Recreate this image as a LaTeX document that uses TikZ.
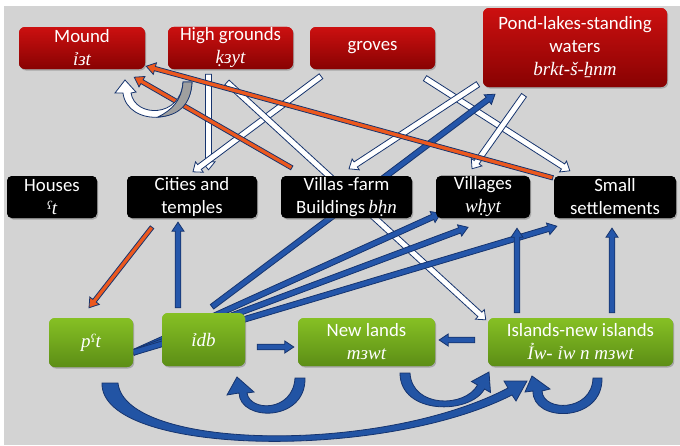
\documentclass[tikz,border=0pt]{standalone}
\usepackage{fontspec}
\setmainfont{Carlito}
\newfontfamily\trfont{Liberation Serif}
\usetikzlibrary{calc,shadows}
\definecolor{bg}{RGB}{211,211,211}
\definecolor{redT}{RGB}{204,16,16}
\definecolor{redB}{RGB}{136,2,2}
\definecolor{grnT}{RGB}{134,192,36}
\definecolor{grnB}{RGB}{92,142,22}
\definecolor{arrBlue}{RGB}{36,86,170}
\definecolor{arrDark}{RGB}{22,52,110}
\definecolor{arrOrange}{RGB}{236,88,30}
\definecolor{ribBlue}{RGB}{34,84,164}
\newcommand{\translit}[1]{{\trfont\itshape\fontsize{19}{23}\selectfont #1}}
\newcommand{\ayin}{\raisebox{0.55ex}{\scalebox{0.62}{ʕ}}}
\newcommand{\FatArr}[6]{%
  \coordinate (faH) at ($(#3)!#6!(#2)$);
  \path[#1] ($(#2)!#4!90:(#3)$) -- ($(faH)!#4!90:(#3)$) -- ($(faH)!#5!90:(#3)$) -- (#3)
    -- ($(faH)!#5!-90:(#3)$) -- ($(faH)!#4!-90:(#3)$) -- ($(#2)!#4!-90:(#3)$) -- cycle;
}
\begin{document}
\begin{tikzpicture}[x=1pt,y=-1pt,
  nbox/.style={rounded corners=6pt, text=white, align=center, inner sep=1pt,
    font=\fontsize{18.8}{23}\selectfont,
    drop shadow={opacity=0.3,shadow xshift=1.2pt,shadow yshift=-1.5pt}},
  redbox/.style={nbox, top color=redT, bottom color=redB},
  blackbox/.style={nbox, fill=black, rounded corners=5pt},
  greenbox/.style={nbox, top color=grnT, bottom color=grnB},
  solidarr/.style={fill=arrBlue, draw=arrDark, line width=0.8pt},
  hollowarr/.style={fill=white, draw=arrDark, line width=0.8pt},
  redarr/.style={fill=arrOrange, draw=arrDark, line width=0.8pt},
  ribbon/.style={fill=ribBlue, draw=arrDark, line width=0.8pt}]
\useasboundingbox (0,0) rectangle (680,445);
\fill[white] (0,0) rectangle (680,445);
\fill[bg] (4,6) rectangle (680,445);

% nodes (placed first so connectors can refer to them; redrawn on top at the end)
\path
  node[redbox, minimum width=126pt, minimum height=42pt] (mound) at (82,48) {Mound\\\translit{ỉзt}}
  node[redbox, minimum width=125pt, minimum height=42pt] (high) at (230.5,48) {High grounds\\\translit{ḳзyt}}
  node[redbox, minimum width=125pt, minimum height=42pt] (groves) at (372.5,48) {groves}
  node[redbox, minimum width=184pt, minimum height=79pt] (pond) at (575,47.5) {Pond-lakes-standing\\waters\\\translit{brkt-š-ẖnm}};

\path
  node[blackbox, minimum width=90pt, minimum height=42pt] (houses) at (52,197) {Houses\\\translit{\ayin t}}
  node[blackbox, minimum width=130pt, minimum height=42pt] (cities) at (192,197) {Cities and\\temples}
  node[blackbox, minimum width=131pt, minimum height=42pt] (villas) at (346.5,197) {Villas -farm\\Buildings\,\translit{bḥn}}
  node[blackbox, minimum width=94pt, minimum height=42pt] (villages) at (483,197) {Villages\\\translit{wḥyt}}
  node[blackbox, minimum width=122pt, minimum height=42pt] (small) at (615,197) {Small\\settlements};

\path
  node[greenbox, minimum width=84pt, minimum height=49pt] (pat) at (91,342.5) {\translit{p\ayin t}}
  node[greenbox, minimum width=83pt, minimum height=53pt] (idb) at (203.5,339.5) {\translit{ỉdb}}
  node[greenbox, minimum width=137pt, minimum height=48pt] (newl) at (366.5,342) {New lands\\\translit{mзwt}}
  node[greenbox, minimum width=185pt, minimum height=48pt] (isl) at (580.5,342) {Islands-new islands\\\translit{Ỉw- ỉw n mзwt}};

% connector end points
\coordinate (h1s) at ($(high.south)+(-22,5)$);
\coordinate (h1e) at ($(cities.north)+(16.5,-6)$);
\coordinate (h2s) at ($(groves.south)+(-51.5,7)$);
\coordinate (h2e) at ($(cities.north)+(1,-4)$);
\coordinate (h3s) at ($(high.south)+(-3.5,13)$);
\coordinate (h3e) at ($(isl.north west)+(-2,2)$);
\coordinate (h4s) at ($(groves.south)+(52.5,9)$);
\coordinate (h4e) at ($(small.north west)+(16,-5)$);
\coordinate (h5s) at ($(pond.south)+(-97,-3)$);
\coordinate (h5e) at ($(villas.north)+(2.5,-7)$);
\coordinate (h6s) at ($(pond.south)+(-51,8)$);
\coordinate (h6e) at ($(villages.north)+(-11,-7)$);
\coordinate (r1s) at ($(small.north west)+(-1,2)$);
\coordinate (r1e) at ($(mound.south east)+(1,-3)$);
\coordinate (r2s) at ($(villas.north west)+(11,-8)$);
\coordinate (r2e) at ($(mound.south east)+(-11,8)$);
\coordinate (r3s) at ($(cities.south)+(-40,9)$);
\coordinate (r3e) at ($(pat.north)+(-2,-10)$);
\coordinate (b1s) at ($(idb.north)+(-25.5,-5)$);
\coordinate (b1e) at ($(cities.south)+(-14,4)$);
\coordinate (b2s) at ($(idb.north)+(8.5,-6)$);
\coordinate (b2e) at ($(pond.south)+(-80,7)$);
\coordinate (b3s) at ($(pat.east)+(0,10)$);
\coordinate (b3e) at ($(villages.south west)+(5,-5)$);
\coordinate (b4e) at ($(villages.south)+(-15,9)$);
\coordinate (b5e) at ($(small.south west)+(3,8)$);
\coordinate (b6s) at ($(isl.north)+(-63.5,-5)$);
\coordinate (b6e) at ($(villages.south)+(34,10)$);
\coordinate (b7s) at ($(isl.north)+(31.5,-5)$);
\coordinate (b7e) at ($(small.south)+(-3,10)$);
\coordinate (b8s) at ($(idb.east)+(12,7.5)$);
\coordinate (b8e) at ($(newl.west)+(-4,5)$);
\coordinate (b9s) at ($(isl.west)+(-13,-2)$);
\coordinate (b9e) at ($(newl.east)+(4,-2)$);

% hollow arrows
\FatArr{hollowarr}{h1s}{h1e}{3pt}{6.5pt}{8pt}
\FatArr{hollowarr}{h2s}{h2e}{3pt}{6.5pt}{8pt}
\FatArr{hollowarr}{h3s}{h3e}{3pt}{6.5pt}{8pt}
\FatArr{hollowarr}{h4s}{h4e}{3pt}{6.5pt}{8pt}
\FatArr{hollowarr}{h5s}{h5e}{3pt}{6.5pt}{8pt}
\FatArr{hollowarr}{h6s}{h6e}{3pt}{6.5pt}{8pt}
% solid blue arrows
\FatArr{solidarr}{b1s}{b1e}{2.8pt}{6pt}{9pt}
\FatArr{solidarr}{b2s}{b2e}{2.8pt}{6pt}{9pt}
\FatArr{solidarr}{b3s}{b3e}{2.8pt}{6pt}{9pt}
\FatArr{solidarr}{b3s}{b4e}{2.8pt}{6pt}{9pt}
\FatArr{solidarr}{b3s}{b5e}{2.8pt}{6pt}{9pt}
\FatArr{solidarr}{b6s}{b6e}{2.8pt}{6pt}{9pt}
\FatArr{solidarr}{b7s}{b7e}{2.8pt}{6pt}{9pt}
\FatArr{solidarr}{b8s}{b8e}{2.8pt}{6pt}{9pt}
\FatArr{solidarr}{b9s}{b9e}{2.8pt}{6pt}{9pt}
% orange arrows
\FatArr{redarr}{r1s}{r1e}{2.2pt}{6pt}{9pt}
\FatArr{redarr}{r2s}{r2e}{2.2pt}{6pt}{9pt}
\FatArr{redarr}{r3s}{r3e}{2.2pt}{6pt}{9pt}

% curved arrow under Mound
\path[hollowarr] (192,82) .. controls (191,127) and (127,127) .. (123,93) -- (115,93) -- (125,80) -- (136,92) -- (131,93)
  .. controls (135,118) and (181,118) .. (183,82) -- cycle;
\path[fill=gray!75!white, draw=arrDark, line width=0.8pt] (183,82) -- (192,82) .. controls (191,105) and (178,116) .. (158,117)
  .. controls (172,110) and (182,100) .. (183,82) -- cycle;

% ribbons at bottom
\path[ribbon] (102,383) .. controls (100,455) and (380,462) .. (512,395) -- (516,401) -- (527,381) -- (504,381) -- (508,388)
  .. controls (380,455) and (125,450) .. (118,383) -- cycle;
\path[ribbon] (305,378) .. controls (306,422) and (240,422) .. (239,393) -- (227,395) -- (237,377) -- (254,392) -- (247,393)
  .. controls (250,412) and (293,412) .. (295,378) -- cycle;
\path[ribbon] (400,373) .. controls (400,415) and (470,415) .. (484.5,389) -- (490.5,392.5) -- (489,372) -- (471.5,381.5) -- (477.5,385)
  .. controls (465,408) and (412,408) .. (410,373) -- cycle;
\path[ribbon] (602,378) .. controls (603,423) and (532,423) .. (533,391) -- (525,392) -- (532,376) -- (550,389) -- (542,391)
  .. controls (543,412) and (592,412) .. (593,378) -- cycle;

% redraw nodes on top of connectors
\path
  node[redbox, minimum width=126pt, minimum height=42pt] at (mound) {Mound\\\translit{ỉзt}}
  node[redbox, minimum width=125pt, minimum height=42pt] at (high) {High grounds\\\translit{ḳзyt}}
  node[redbox, minimum width=125pt, minimum height=42pt] at (groves) {groves}
  node[redbox, minimum width=184pt, minimum height=79pt] at (pond) {Pond-lakes-standing\\waters\\\translit{brkt-š-ẖnm}};
\path
  node[blackbox, minimum width=90pt, minimum height=42pt] at (houses) {Houses\\\translit{\ayin t}}
  node[blackbox, minimum width=130pt, minimum height=42pt] at (cities) {Cities and\\temples}
  node[blackbox, minimum width=131pt, minimum height=42pt] at (villas) {Villas -farm\\Buildings\,\translit{bḥn}}
  node[blackbox, minimum width=94pt, minimum height=42pt] at (villages) {Villages\\\translit{wḥyt}}
  node[blackbox, minimum width=122pt, minimum height=42pt] at (small) {Small\\settlements};
\path
  node[greenbox, minimum width=84pt, minimum height=49pt] at (pat) {\translit{p\ayin t}}
  node[greenbox, minimum width=83pt, minimum height=53pt] at (idb) {\translit{ỉdb}}
  node[greenbox, minimum width=137pt, minimum height=48pt] at (newl) {New lands\\\translit{mзwt}}
  node[greenbox, minimum width=185pt, minimum height=48pt] at (isl) {Islands-new islands\\\translit{Ỉw- ỉw n mзwt}};
\end{tikzpicture}
\end{document}
